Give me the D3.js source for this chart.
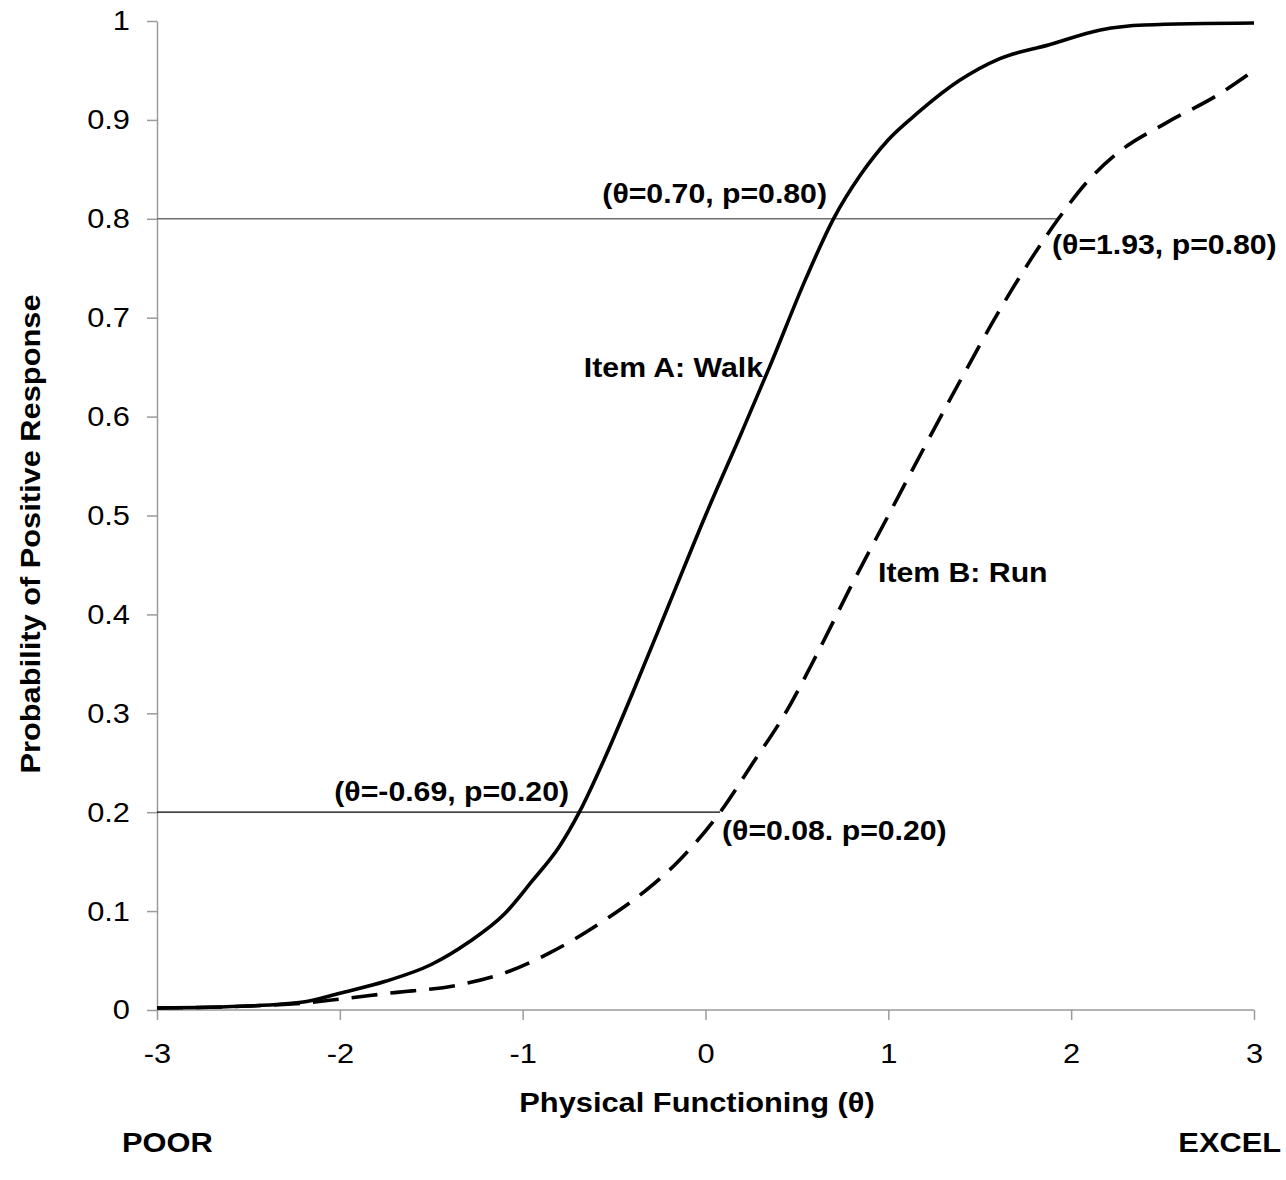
<!DOCTYPE html>
<html>
<head>
<meta charset="utf-8">
<script src="https://cdn.jsdelivr.net/npm/d3@7/dist/d3.min.js"></script>
<style>
  html, body { margin: 0; padding: 0; background: #fff; }
  svg { display: block; font-family: "Liberation Sans", Arial, sans-serif; }
</style>
</head>
<body>
<svg id="chart" width="1286" height="1180"></svg>
<script>
// Item characteristic curves: probability of endorsing each item by ability level
const walkTheta = [-3.0, -2.5, -2.2, -2.0, -1.75, -1.5, -1.3, -1.1, -0.95, -0.8, -0.69, -0.55, -0.4, -0.2, 0.0, 0.2, 0.35, 0.55, 0.70, 0.85, 1.0, 1.16, 1.39, 1.61, 1.88, 2.16, 2.4, 3.0];
const walkProb  = [0.002, 0.004, 0.008, 0.017, 0.029, 0.046, 0.068, 0.097, 0.13, 0.165, 0.20, 0.255, 0.32, 0.41, 0.50, 0.585, 0.65, 0.74, 0.80, 0.845, 0.88, 0.907, 0.94, 0.962, 0.976, 0.991, 0.996, 0.998];

const runTheta = [-3.0, -2.5, -2.2, -2.0, -1.73, -1.36, -1.09, -0.85, -0.55, -0.36, -0.14, 0.08, 0.26, 0.43, 0.61, 0.8, 1.0, 1.2, 1.41, 1.61, 1.79, 1.93, 2.10, 2.25, 2.52, 2.80, 3.0];
const runProb  = [0.002, 0.004, 0.007, 0.011, 0.017, 0.025, 0.038, 0.058, 0.091, 0.116, 0.152, 0.20, 0.25, 0.298, 0.36, 0.43, 0.50, 0.57, 0.642, 0.708, 0.762, 0.80, 0.84, 0.866, 0.897, 0.925, 0.95];

// Marked threshold points (theta where each item reaches p)
const markTheta  = [-0.69, 0.08, 0.70, 1.93];
const markProb   = [0.20, 0.20, 0.80, 0.80];
const markLabels = ["(θ=-0.69, p=0.20)", "(θ=0.08. p=0.20)", "(θ=0.70, p=0.80)", "(θ=1.93, p=0.80)"];

const xTickValues = [-3, -2, -1, 0, 1, 2, 3];
const xTickLabels = ["-3", "-2", "-1", "0", "1", "2", "3"];
const yTickValues = [0, 0.1, 0.2, 0.3, 0.4, 0.5, 0.6, 0.7, 0.8, 0.9, 1];
const yTickLabels = ["0", "0.1", "0.2", "0.3", "0.4", "0.5", "0.6", "0.7", "0.8", "0.9", "1"];

const svg = d3.select("#chart");
const plot = { left: 157, right: 1254, top: 21, bottom: 1010 };

const x = d3.scaleLinear().domain([-3, 3]).range([plot.left, plot.right]);
const y = d3.scaleLinear().domain([0, 1]).range([plot.bottom, plot.top]);

// Widen glyphs horizontally around their anchor point
function stretch(sel, sx) {
  sel.each(function () {
    const t = d3.select(this);
    const tx = +t.attr("x") || 0, ty = +t.attr("y") || 0;
    t.attr("x", 0).attr("y", 0)
      .attr("transform", `translate(${tx},${ty}) scale(${sx},1)`);
  });
}

// Axes
const axisColor = "#9a9a9a";
const yAxis = svg.append("g")
  .attr("transform", `translate(${plot.left},0)`)
  .call(d3.axisLeft(y).tickValues(yTickValues)
    .tickFormat((d, i) => yTickLabels[i])
    .tickSize(10).tickSizeOuter(0).tickPadding(17));
const xAxis = svg.append("g")
  .attr("transform", `translate(0,${plot.bottom})`)
  .call(d3.axisBottom(x).tickValues(xTickValues)
    .tickFormat((d, i) => xTickLabels[i])
    .tickSize(10).tickSizeOuter(0).tickPadding(23));
[yAxis, xAxis].forEach(g => {
  g.select(".domain").attr("stroke", axisColor).attr("stroke-width", 1.5);
  g.selectAll(".tick line").attr("stroke", axisColor).attr("stroke-width", 1.5);
  g.selectAll(".tick text").attr("fill", "#000").style("font-size", "28px")
    .style("font-family", "'Liberation Sans', Arial, sans-serif")
    .call(stretch, 1.1);
});
xAxis.select(".domain").attr("d", `M${plot.left},0H${plot.right}`);

// Horizontal guides from the axis to where the harder item reaches p
const guides = [
  { p: markProb[2], to: markTheta[3], color: "#6e6e6e", w: 1.6 },
  { p: markProb[0], to: markTheta[1], color: "#000", w: 1.3 }
];
svg.selectAll("line.guide").data(guides).enter().append("line")
  .attr("class", "guide")
  .attr("x1", plot.left).attr("x2", d => x(d.to))
  .attr("y1", d => y(d.p)).attr("y2", d => y(d.p))
  .attr("stroke", d => d.color).attr("stroke-width", d => d.w);

// Curves
const line = d3.line()
  .x(d => x(d[0])).y(d => y(d[1]))
  .curve(d3.curveMonotoneX);

svg.append("path")
  .datum(d3.zip(runTheta, runProb))
  .attr("d", line)
  .attr("fill", "none").attr("stroke", "#000")
  .attr("stroke-width", 3.6).attr("stroke-dasharray", "26,13");

svg.append("path")
  .datum(d3.zip(walkTheta, walkProb))
  .attr("d", line)
  .attr("fill", "none").attr("stroke", "#000")
  .attr("stroke-width", 3.6);

// Annotations
const bold = sel => sel.attr("fill", "#000").style("font-weight", "bold")
  .style("font-size", "28px").style("font-family", "'Liberation Sans', Arial, sans-serif");

const annot = [
  { t: markLabels[0], x: 569, y: 801, a: "end" },
  { t: markLabels[1], x: 722, y: 840, a: "start" },
  { t: markLabels[2], x: 827, y: 203, a: "end" },
  { t: markLabels[3], x: 1052, y: 254, a: "start" },
  { t: "Item A: Walk", x: 763, y: 377, a: "end" },
  { t: "Item B: Run", x: 878, y: 582, a: "start" }
];
svg.selectAll("text.annot").data(annot).enter().append("text")
  .attr("class", "annot")
  .attr("x", d => d.x).attr("y", d => d.y)
  .attr("text-anchor", d => d.a)
  .text(d => d.t)
  .call(bold)
  .call(stretch, 1.08);

// Axis titles
svg.append("text")
  .attr("x", 697).attr("y", 1112).attr("text-anchor", "middle")
  .text("Physical Functioning (θ)").call(bold).call(stretch, 1.1);
svg.append("text")
  .attr("transform", "translate(40,534) rotate(-90) scale(1.1,1)")
  .attr("text-anchor", "middle")
  .text("Probability of Positive Response").call(bold);
svg.append("text")
  .attr("x", 122).attr("y", 1152).attr("text-anchor", "start")
  .text("POOR").call(bold).call(stretch, 1.1);
svg.append("text")
  .attr("x", 1281).attr("y", 1152).attr("text-anchor", "end")
  .text("EXCEL").call(bold).call(stretch, 1.1);
</script>
</body>
</html>
